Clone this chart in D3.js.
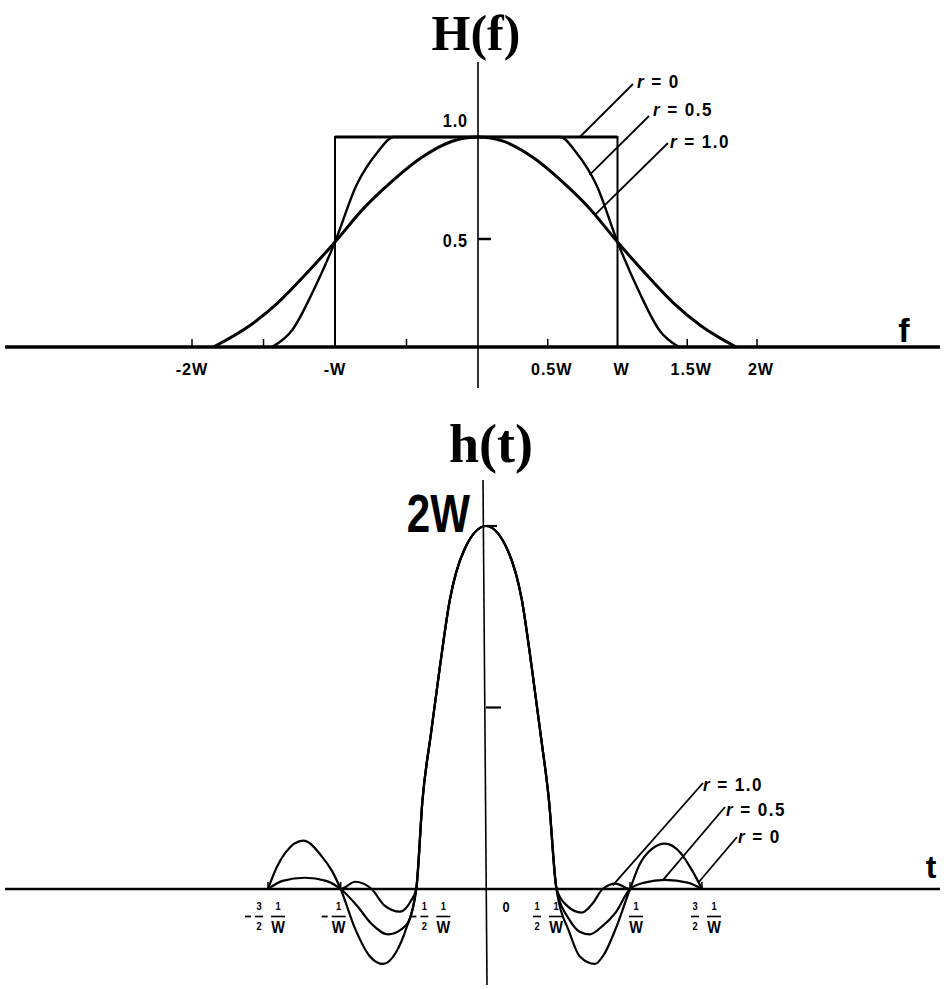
<!DOCTYPE html>
<html>
<head>
<meta charset="utf-8">
<script src="https://cdn.jsdelivr.net/npm/d3@7"></script>
<style>
  body { margin: 0; background: #fff; }
  svg { display: block; }
</style>
</head>
<body>
<div id="chart"></div>
<script>
// ---------- H(f) panel : f in units of W ----------
let fTickVals = [-2, -1.5, -0.5, 0.5, 1.5, 2];
let fLabelVals = [-2, -1, 0.5, 1, 1.5, 2];
let fLabels = ["-2W", "-W", "0.5W", "W", "1.5W", "2W"];
let hLevelVals = [1.0, 0.5];
let hLevelLabels = ["1.0", "0.5"];

// r = 0 (ideal rectangle)
let r0F = [-1, -1, 1, 1];
let r0H = [0, 1, 1, 0];
// r = 0.5
let r05F = [-1.44, -1.3, -1.15, -1, -0.85, -0.7, -0.59, 0, 0.59, 0.7, 0.85, 1, 1.15, 1.3, 1.44];
let r05H = [0, 0.08, 0.27, 0.5, 0.77, 0.93, 1, 1, 1, 0.93, 0.77, 0.5, 0.27, 0.08, 0];
// r = 1.0
let r1F = [-1.85, -1.6, -1.4, -1.2, -1, -0.8, -0.6, -0.4, -0.18, 0, 0.18, 0.4, 0.6, 0.8, 1, 1.2, 1.4, 1.6, 1.85];
let r1H = [0, 0.1, 0.21, 0.35, 0.5, 0.66, 0.79, 0.9, 0.98, 1, 0.98, 0.9, 0.79, 0.66, 0.5, 0.35, 0.21, 0.1, 0];

// ---------- h(t) panel : t in units of 1/W, h in units of W ----------
let tTickVals = [-1.5, -1, -0.5, 0, 0.5, 1, 1.5];
let tSign = ["−", "−", "−", "", "", "", ""];
let tCoef = ["3/2", "", "1/2", "0", "1/2", "", "3/2"];
let hTickVals = [2, 1];

let b0T = [-1.5, -1.44, -1.38, -1.257, -1.13, -1.06, -1, -0.9, -0.8, -0.707, -0.62, -0.55, -0.48,
  -0.437, -0.378, -0.317, -0.249, -0.15, 0, 0.15, 0.249, 0.317, 0.378, 0.437,
  0.49, 0.58, 0.65, 0.757, 0.82, 0.9, 1, 1.07, 1.15, 1.243, 1.35, 1.44, 1.5];
let b0H = [0, 0.12, 0.2, 0.266, 0.18, 0.1, 0, -0.22, -0.37, -0.413, -0.35, -0.22, 0,
  0.49, 0.86, 1.225, 1.592, 1.868, 2, 1.868, 1.592, 1.225, 0.86, 0.49,
  0, -0.24, -0.37, -0.413, -0.36, -0.22, 0, 0.14, 0.22, 0.25, 0.2, 0.09, 0];

let b05T = [-1.5, -1.4, -1.246, -1.1, -1, -0.89, -0.79, -0.672, -0.55, -0.48,
  -0.437, -0.378, -0.317, -0.249, -0.15, 0, 0.15, 0.249, 0.317, 0.378, 0.437,
  0.49, 0.58, 0.65, 0.722, 0.8, 0.9, 1, 1.1, 1.243, 1.4, 1.5];
let b05H = [0, 0.045, 0.062, 0.045, 0, -0.09, -0.19, -0.25, -0.2, 0,
  0.49, 0.86, 1.225, 1.592, 1.868, 2, 1.868, 1.592, 1.225, 0.86, 0.49,
  0, -0.17, -0.235, -0.25, -0.21, -0.13, 0, 0.035, 0.05, 0.035, 0];

let b1T = [-1.5, -1.25, -1, -0.9, -0.787, -0.7, -0.592, -0.52, -0.48,
  -0.437, -0.378, -0.317, -0.249, -0.15, 0, 0.15, 0.249, 0.317, 0.378, 0.437,
  0.49, 0.56, 0.665, 0.74, 0.81, 0.9, 1, 1.25, 1.5];
let b1H = [0, 0, 0, 0.04, 0, -0.09, -0.125, -0.07, 0,
  0.49, 0.86, 1.225, 1.592, 1.868, 2, 1.868, 1.592, 1.225, 0.86, 0.49,
  0, -0.09, -0.13, -0.08, 0, 0.03, 0, 0, 0];

const sans = "'Liberation Sans', Arial, sans-serif";
const serif = "'Liberation Serif', 'Times New Roman', serif";

let svg = d3.select("#chart").append("svg")
    .attr("width", 944)
    .attr("height", 989);

let zip = (a, b) => a.map((v, i) => [v, b[i]]);

// condensed bold label (the scan uses a narrow typeface)
function ntext(parent, x, y, size, str, anchor, sx) {
    return parent.append("text")
        .attr("transform", "translate(" + x + "," + y + ") scale(" + (sx || 0.8) + ",1)")
        .attr("text-anchor", anchor || "middle")
        .style("font-family", sans)
        .style("font-weight", "bold")
        .style("font-size", size + "px")
        .text(str);
}

// ===== top panel =====
let x1 = d3.scaleLinear().domain([-2, 0, 2]).range([192, 478, 757]);
let y1 = d3.scaleLinear().domain([0, 1]).range([347, 137]);
let smooth1 = d3.line().x(d => x1(d[0])).y(d => y1(d[1])).curve(d3.curveMonotoneX);
let straight1 = d3.line().x(d => x1(d[0])).y(d => y1(d[1]));

let topG = svg.append("g");

// vertical axis
topG.append("line")
    .attr("x1", x1(0)).attr("x2", x1(0))
    .attr("y1", 62).attr("y2", 388)
    .attr("stroke", "#000").attr("stroke-width", 1.6);

// f axis
topG.append("line")
    .attr("x1", 5).attr("x2", 940)
    .attr("y1", y1(0)).attr("y2", y1(0))
    .attr("stroke", "#000").attr("stroke-width", 3.5);

topG.selectAll(".ftick")
    .data(fTickVals)
    .enter().append("line")
    .attr("x1", d => x1(d)).attr("x2", d => x1(d))
    .attr("y1", y1(0)).attr("y2", y1(0) - 8)
    .attr("stroke", "#000").attr("stroke-width", 1.5);

fLabelVals.forEach(function(d, i) {
    ntext(topG, x1(d) + (d > 0 ? 4 : 0), 375, 17, fLabels[i], "middle", 0.95)
        .style("letter-spacing", "1px");
});

// level labels + tick at 0.5
hLevelVals.forEach(function(d, i) {
    ntext(topG, 468, y1(d) - (d === 1 ? 10 : -5), 18, hLevelLabels[i], "end", 0.9)
        .style("letter-spacing", "1px");
});

topG.append("line")
    .attr("x1", x1(0)).attr("x2", x1(0) + 13)
    .attr("y1", y1(0.5) - 3).attr("y2", y1(0.5) - 3)
    .attr("stroke", "#000").attr("stroke-width", 2.5);

// curves
topG.append("path")
    .attr("d", straight1(zip(r0F, r0H)))
    .attr("fill", "none").attr("stroke", "#000").attr("stroke-width", 2);
topG.append("line")
    .attr("x1", x1(-1)).attr("x2", x1(1))
    .attr("y1", y1(1)).attr("y2", y1(1))
    .attr("stroke", "#000").attr("stroke-width", 3.2);
topG.append("path")
    .attr("d", smooth1(zip(r05F, r05H)))
    .attr("fill", "none").attr("stroke", "#000").attr("stroke-width", 2.4);
topG.append("path")
    .attr("d", smooth1(zip(r1F, r1H)))
    .attr("fill", "none").attr("stroke", "#000").attr("stroke-width", 3);

// leaders + r labels
function rLabel(parent, x, y, rest) {
    let t = parent.append("text")
        .attr("transform", "translate(" + x + "," + y + ") scale(0.95,1)")
        .style("font-family", sans)
        .style("font-weight", "bold")
        .style("font-size", "18px")
        .style("letter-spacing", "1.5px");
    t.append("tspan").style("font-style", "italic").text("r");
    t.append("tspan").text(rest);
}
let topLeaders = [
    { from: [0.73, 1], to: [633, 84], txt: " = 0", tx: 637, ty: 88 },
    { from: [0.8, 0.82], to: [649, 116], txt: " = 0.5", tx: 653, ty: 116 },
    { from: [0.84, 0.63], to: [668, 143], txt: " = 1.0", tx: 670, ty: 148 }
];
topLeaders.forEach(function(l) {
    topG.append("line")
        .attr("x1", x1(l.from[0])).attr("y1", y1(l.from[1]))
        .attr("x2", l.to[0]).attr("y2", l.to[1])
        .attr("stroke", "#000").attr("stroke-width", 1.8);
    rLabel(topG, l.tx, l.ty, l.txt);
});

// titles
topG.append("text")
    .attr("x", 476).attr("y", 50)
    .attr("text-anchor", "middle")
    .style("font-family", serif)
    .style("font-weight", "bold")
    .style("font-size", "50px")
    .text("H(f)");
topG.append("text")
    .attr("x", 904).attr("y", 342)
    .attr("text-anchor", "middle")
    .style("font-family", sans)
    .style("font-weight", "bold")
    .style("font-size", "34px")
    .text("f");

// ===== bottom panel =====
let x2 = d3.scaleLinear().domain([-1.5, 0, 1.5]).range([268, 486, 702]);
let y2 = d3.scaleLinear().domain([0, 2]).range([889, 526]);
let smooth2 = d3.line().x(d => x2(d[0])).y(d => y2(d[1])).curve(d3.curveMonotoneX);

let botG = svg.append("g");

botG.append("line")
    .attr("x1", x2(0) - 3).attr("x2", x2(0) + 1)
    .attr("y1", 480).attr("y2", 985)
    .attr("stroke", "#000").attr("stroke-width", 1.6);

botG.append("line")
    .attr("x1", 5).attr("x2", 940)
    .attr("y1", y2(0)).attr("y2", y2(0))
    .attr("stroke", "#000").attr("stroke-width", 2.6);

botG.selectAll(".htick")
    .data(hTickVals)
    .enter().append("line")
    .attr("x1", x2(0)).attr("x2", d => x2(0) + (d === 2 ? 11 : 15))
    .attr("y1", d => y2(d)).attr("y2", d => y2(d))
    .attr("stroke", "#000").attr("stroke-width", 2.2);

botG.selectAll(".ttick")
    .data([-1.5, -1, 1, 1.5])
    .enter().append("line")
    .attr("x1", d => x2(d)).attr("x2", d => x2(d))
    .attr("y1", y2(0)).attr("y2", y2(0) - 7)
    .attr("stroke", "#000").attr("stroke-width", 1.5);

[[b0T, b0H], [b05T, b05H], [b1T, b1H]].forEach(function(c) {
    botG.append("path")
        .attr("d", smooth2(zip(c[0], c[1])))
        .attr("fill", "none").attr("stroke", "#000").attr("stroke-width", 2.2);
});

// t-axis fraction labels
let tShift = [10, -2, 30, 20, -2, 6, 12];
function frac(g, cx, num, den, small) {
    ntext(g, cx, 910, 11, num, "middle", 0.85);
    g.append("line")
        .attr("x1", cx - (small ? 4 : 7)).attr("x2", cx + (small ? 4 : 7))
        .attr("y1", 916.5).attr("y2", 916.5)
        .attr("stroke", "#000").attr("stroke-width", 1.6);
    ntext(g, cx, small ? 930 : 933, small ? 11 : 17, den, "middle", 0.85);
}
tTickVals.forEach(function(v, i) {
    let g = botG.append("g");
    let cx = x2(v) + tShift[i];
    if (tCoef[i] === "0") {
        ntext(g, cx, 912, 15, "0", "middle", 0.85);
        return;
    }
    if (tCoef[i]) {
        let p = tCoef[i].split("/");
        frac(g, cx - 19, p[0], p[1], true);
    }
    frac(g, cx, "1", "W", false);
    if (tSign[i]) {
        let sx = tCoef[i] ? cx - 30 : cx - 14;
        g.append("line")
            .attr("x1", sx - 3).attr("x2", sx + 3)
            .attr("y1", 916.5).attr("y2", 916.5)
            .attr("stroke", "#000").attr("stroke-width", 1.8);
    }
});

// leaders + r labels (bottom)
let botLeaders = [
    { from: [0.88, 0.02], to: [703, 783], txt: " = 1.0", tx: 703, ty: 791 },
    { from: [1.23, 0.05], to: [725, 807], txt: " = 0.5", tx: 726, ty: 816 },
    { from: [1.48, 0.04], to: [737, 837], txt: " = 0", tx: 738, ty: 843 }
];
botLeaders.forEach(function(l) {
    botG.append("line")
        .attr("x1", x2(l.from[0])).attr("y1", y2(l.from[1]))
        .attr("x2", l.to[0]).attr("y2", l.to[1])
        .attr("stroke", "#000").attr("stroke-width", 1.8);
    rLabel(botG, l.tx, l.ty, l.txt);
});

botG.append("text")
    .attr("x", 491).attr("y", 462)
    .attr("text-anchor", "middle")
    .style("font-family", serif)
    .style("font-weight", "bold")
    .style("font-size", "54px")
    .text("h(t)");
ntext(botG, 470, 532, 54, "2W", "end", 0.78);
botG.append("text")
    .attr("x", 931).attr("y", 878)
    .attr("text-anchor", "middle")
    .style("font-family", sans)
    .style("font-weight", "bold")
    .style("font-size", "32px")
    .text("t");
</script>
</body>
</html>
